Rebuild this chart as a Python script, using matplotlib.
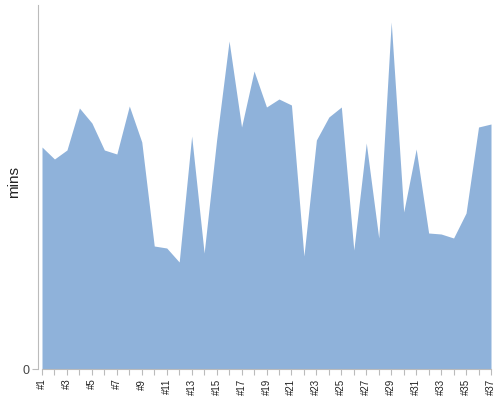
import matplotlib
matplotlib.use("Agg")
import matplotlib.pyplot as plt
import numpy as np

plt.rcParams['font.family'] = ['Liberation Sans', 'DejaVu Sans']

categories = ["#%d" % i for i in range(1, 38)]
values = [22.2, 21.0, 21.9, 26.1, 24.6, 21.9, 21.5, 26.3, 22.7, 12.3,
          12.1, 10.7, 23.3, 11.6, 22.9, 32.8, 24.2, 29.8, 26.2, 27.0,
          26.4, 11.3, 22.9, 25.2, 26.2, 11.9, 22.6, 13.1, 34.7, 15.7,
          22.0, 13.6, 13.5, 13.1, 15.6, 24.2, 24.5]
y_max = 36.4

fig = plt.figure(figsize=(5, 4), dpi=100)
ax = fig.add_axes([0.084, 0.0775, 0.898, 0.91])
x = np.arange(1, len(values) + 1)
ax.fill_between(x, 0, values, color='#8fb2da', linewidth=0)
ax.set_xlim(1, len(values))
ax.set_ylim(0, y_max)

for s in ['top', 'right']:
    ax.spines[s].set_visible(False)
ax.spines['left'].set_position(('outward', 3))
ax.spines['left'].set_color('#bbbbbb')
ax.spines['bottom'].set_color('#bbbbbb')

ax.set_yticks([0])
ax.set_yticklabels(['0'], fontsize=9, color='#444444')
ax.tick_params(axis='y', length=4, color='#bbbbbb', pad=2)
ax.set_xticks(x)
ax.set_xticklabels([c if i % 2 == 0 else '' for i, c in enumerate(categories)],
                   rotation=90, fontsize=7, color='#222222')
ax.tick_params(axis='x', length=4, color='#bbbbbb', pad=3)
ax.set_ylabel('mins', fontsize=11, color='#222222')
ax.yaxis.set_label_coords(-0.047, 0.514)

fig.savefig('out.png', dpi=100)
